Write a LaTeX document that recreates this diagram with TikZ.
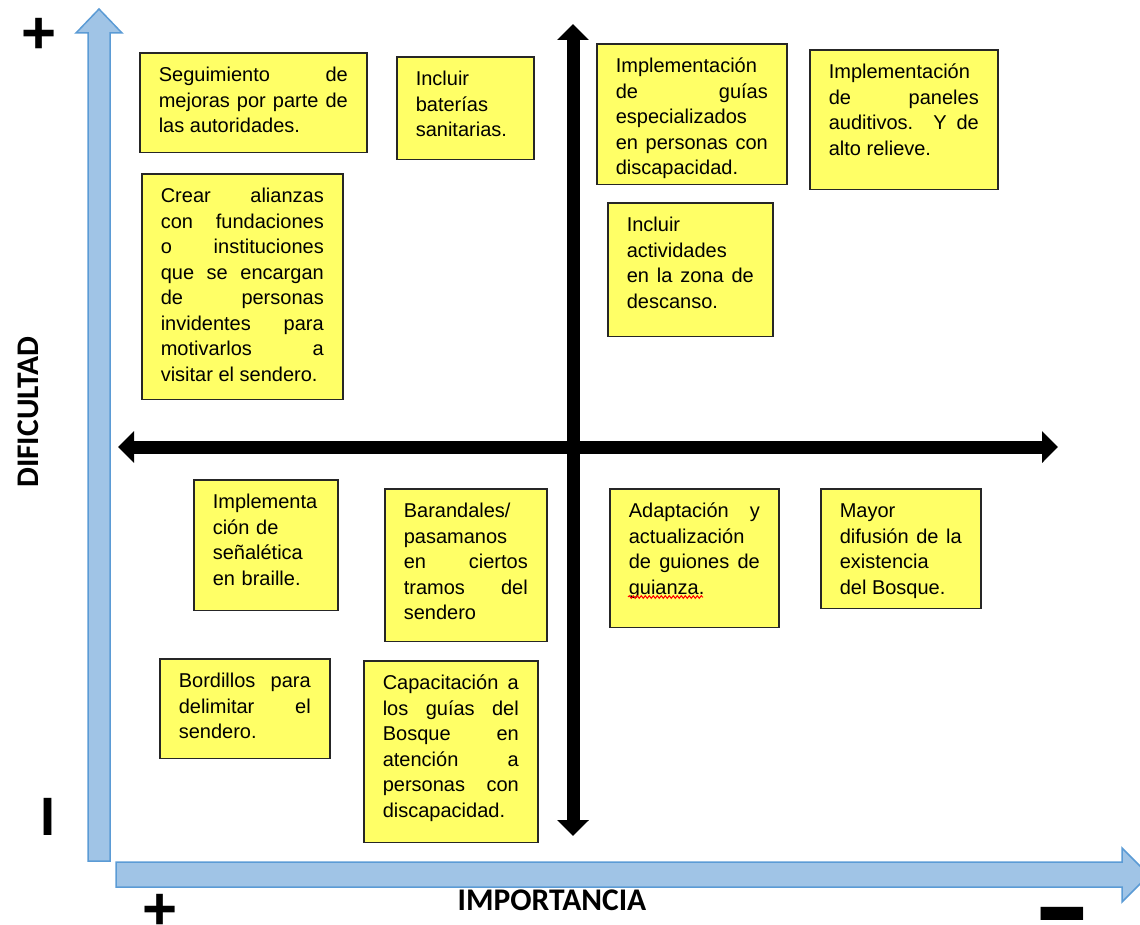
\documentclass[tikz,border=0pt]{standalone}
\usepackage{fontspec}
\usepackage{graphicx}
\setmainfont{Liberation Sans}
\newfontfamily\ejefont{Carlito}
\usetikzlibrary{arrows.meta,decorations.pathmorphing}
\definecolor{notafondo}{RGB}{255,255,102}
\definecolor{ejefondo}{RGB}{160,196,230}
\definecolor{ejeborde}{RGB}{91,155,213}

\tikzset{
  nota/.style={draw=black!85, line width=1.6pt, fill=notafondo, anchor=north west,
    align=justify, inner xsep=19pt, inner ysep=11pt,
    font=\fontsize{20}{25.5}\selectfont,
    execute at begin node={\hyphenpenalty=10000\tolerance=10000\strut}},
  ejeazul/.style={fill=ejefondo, draw=ejeborde, line width=1.5pt, line join=miter},
  ejenegro/.style={line width=13pt, {Triangle[length=16pt,width=31pt]}-{Triangle[length=16pt,width=31pt]}},
  signo/.style={font=\bfseries\fontsize{60}{60}\selectfont, inner sep=0pt},
  titulo/.style={font=\ejefont\bfseries\fontsize{31.5}{31.5}\selectfont, inner sep=0pt}
}

\begin{document}
\begin{tikzpicture}[x=1pt, y=-1pt]
  \useasboundingbox (0,0) rectangle (1140,925);
  \clip (0,0) rectangle (1140,925);

  \draw[ejeazul] (88,861) -- (88,33) -- (76,33) -- (99,9) -- (122,33) -- (110,33) -- (110,861) -- cycle;
  \draw[ejeazul] (116,862) -- (1122,862) -- (1122,848) -- (1149,875) -- (1122,902) -- (1122,887) -- (116,887) -- cycle;

  \coordinate (oeste) at (118,447);
  \coordinate (este) at (1058,447);
  \coordinate (norte) at (573,24);
  \coordinate (sur) at (573,836);
  \draw[ejenegro] (oeste) -- (este);
  \draw[ejenegro] (norte) -- (sur);

  \node[signo] (masdif) at (39,36) {+};
  \node[signo, font=\bfseries\fontsize{54}{54}\selectfont] (menosdif) at (48,817) {I};
  \node[signo] (masimp) at (160,912) {+};
  \node[signo, font=\bfseries\fontsize{78}{78}\selectfont] (menosimp) at (1062,928)
    {\scalebox{1.1}[1.7]{–}};
  \node[titulo, rotate=90] (dificultad) at (28,412) {DIFICULTAD};
  \node[titulo] (importancia) at (552,900) {IMPORTANCIA};

  \node[nota, text width=189pt, text depth=60pt] (seguimiento) at (139,52)
    {Seguimiento de\linebreak mejoras por parte de\linebreak las autoridades.};
  \node[nota, text width=99pt, text depth=63pt] (baterias) at (396,56)
    {Incluir\\ baterías\\ sanitarias.};
  \node[nota, text width=152pt, text depth=101pt] (guias) at (596,43)
    {Implementación\\ de guías\linebreak especializados\\ en personas con\linebreak discapacidad.};
  \node[nota, text width=150pt, text depth=100pt] (paneles) at (809,49)
    {Implementación\\ de paneles\linebreak auditivos. Y de\linebreak alto relieve.};
  \node[nota, text width=163pt, text depth=186pt] (alianzas) at (141,173)
    {Crear alianzas\linebreak con fundaciones\linebreak o instituciones\linebreak que se encargan\linebreak de personas\linebreak invidentes para\linebreak motivarlos a\linebreak visitar el sendero.};
  \node[nota, text width=127pt, text depth=94pt] (actividades) at (607,202)
    {Incluir\\ actividades\\ en la zona de\linebreak descanso.};

  \node[nota, align=left, text width=106pt, text depth=91pt] (senaletica) at (193,479)
    {Implementa\\ción de\\señalética\\en braille.};
  \node[nota, text width=124pt, text depth=113pt] (barandales) at (384,488)
    {Barandales/\\ pasamanos\\ en ciertos\linebreak tramos del\linebreak sendero};
  \node[nota, text width=131pt, text depth=99pt] (adaptacion) at (609,488)
    {Adaptación y\linebreak actualización\\ de guiones de\linebreak guianza.};
  \node[nota, text width=122pt, text depth=80pt] (difusion) at (820,488)
    {Mayor\\ difusión de la\linebreak existencia\\ del Bosque.};
  \node[nota, text width=132pt, text depth=60pt] (bordillos) at (159,658)
    {Bordillos para\linebreak delimitar el\linebreak sendero.};
  \node[nota, text width=136pt, text depth=142pt] (capacitacion) at (363,660)
    {Capacitación a\linebreak los guías del\linebreak Bosque en\linebreak atención a\linebreak personas con\linebreak discapacidad.};

  \draw[red, line width=1pt, decorate, decoration={snake, amplitude=1.3pt, segment length=4pt}]
    (628,597) -- (703,597);
\end{tikzpicture}
\end{document}
